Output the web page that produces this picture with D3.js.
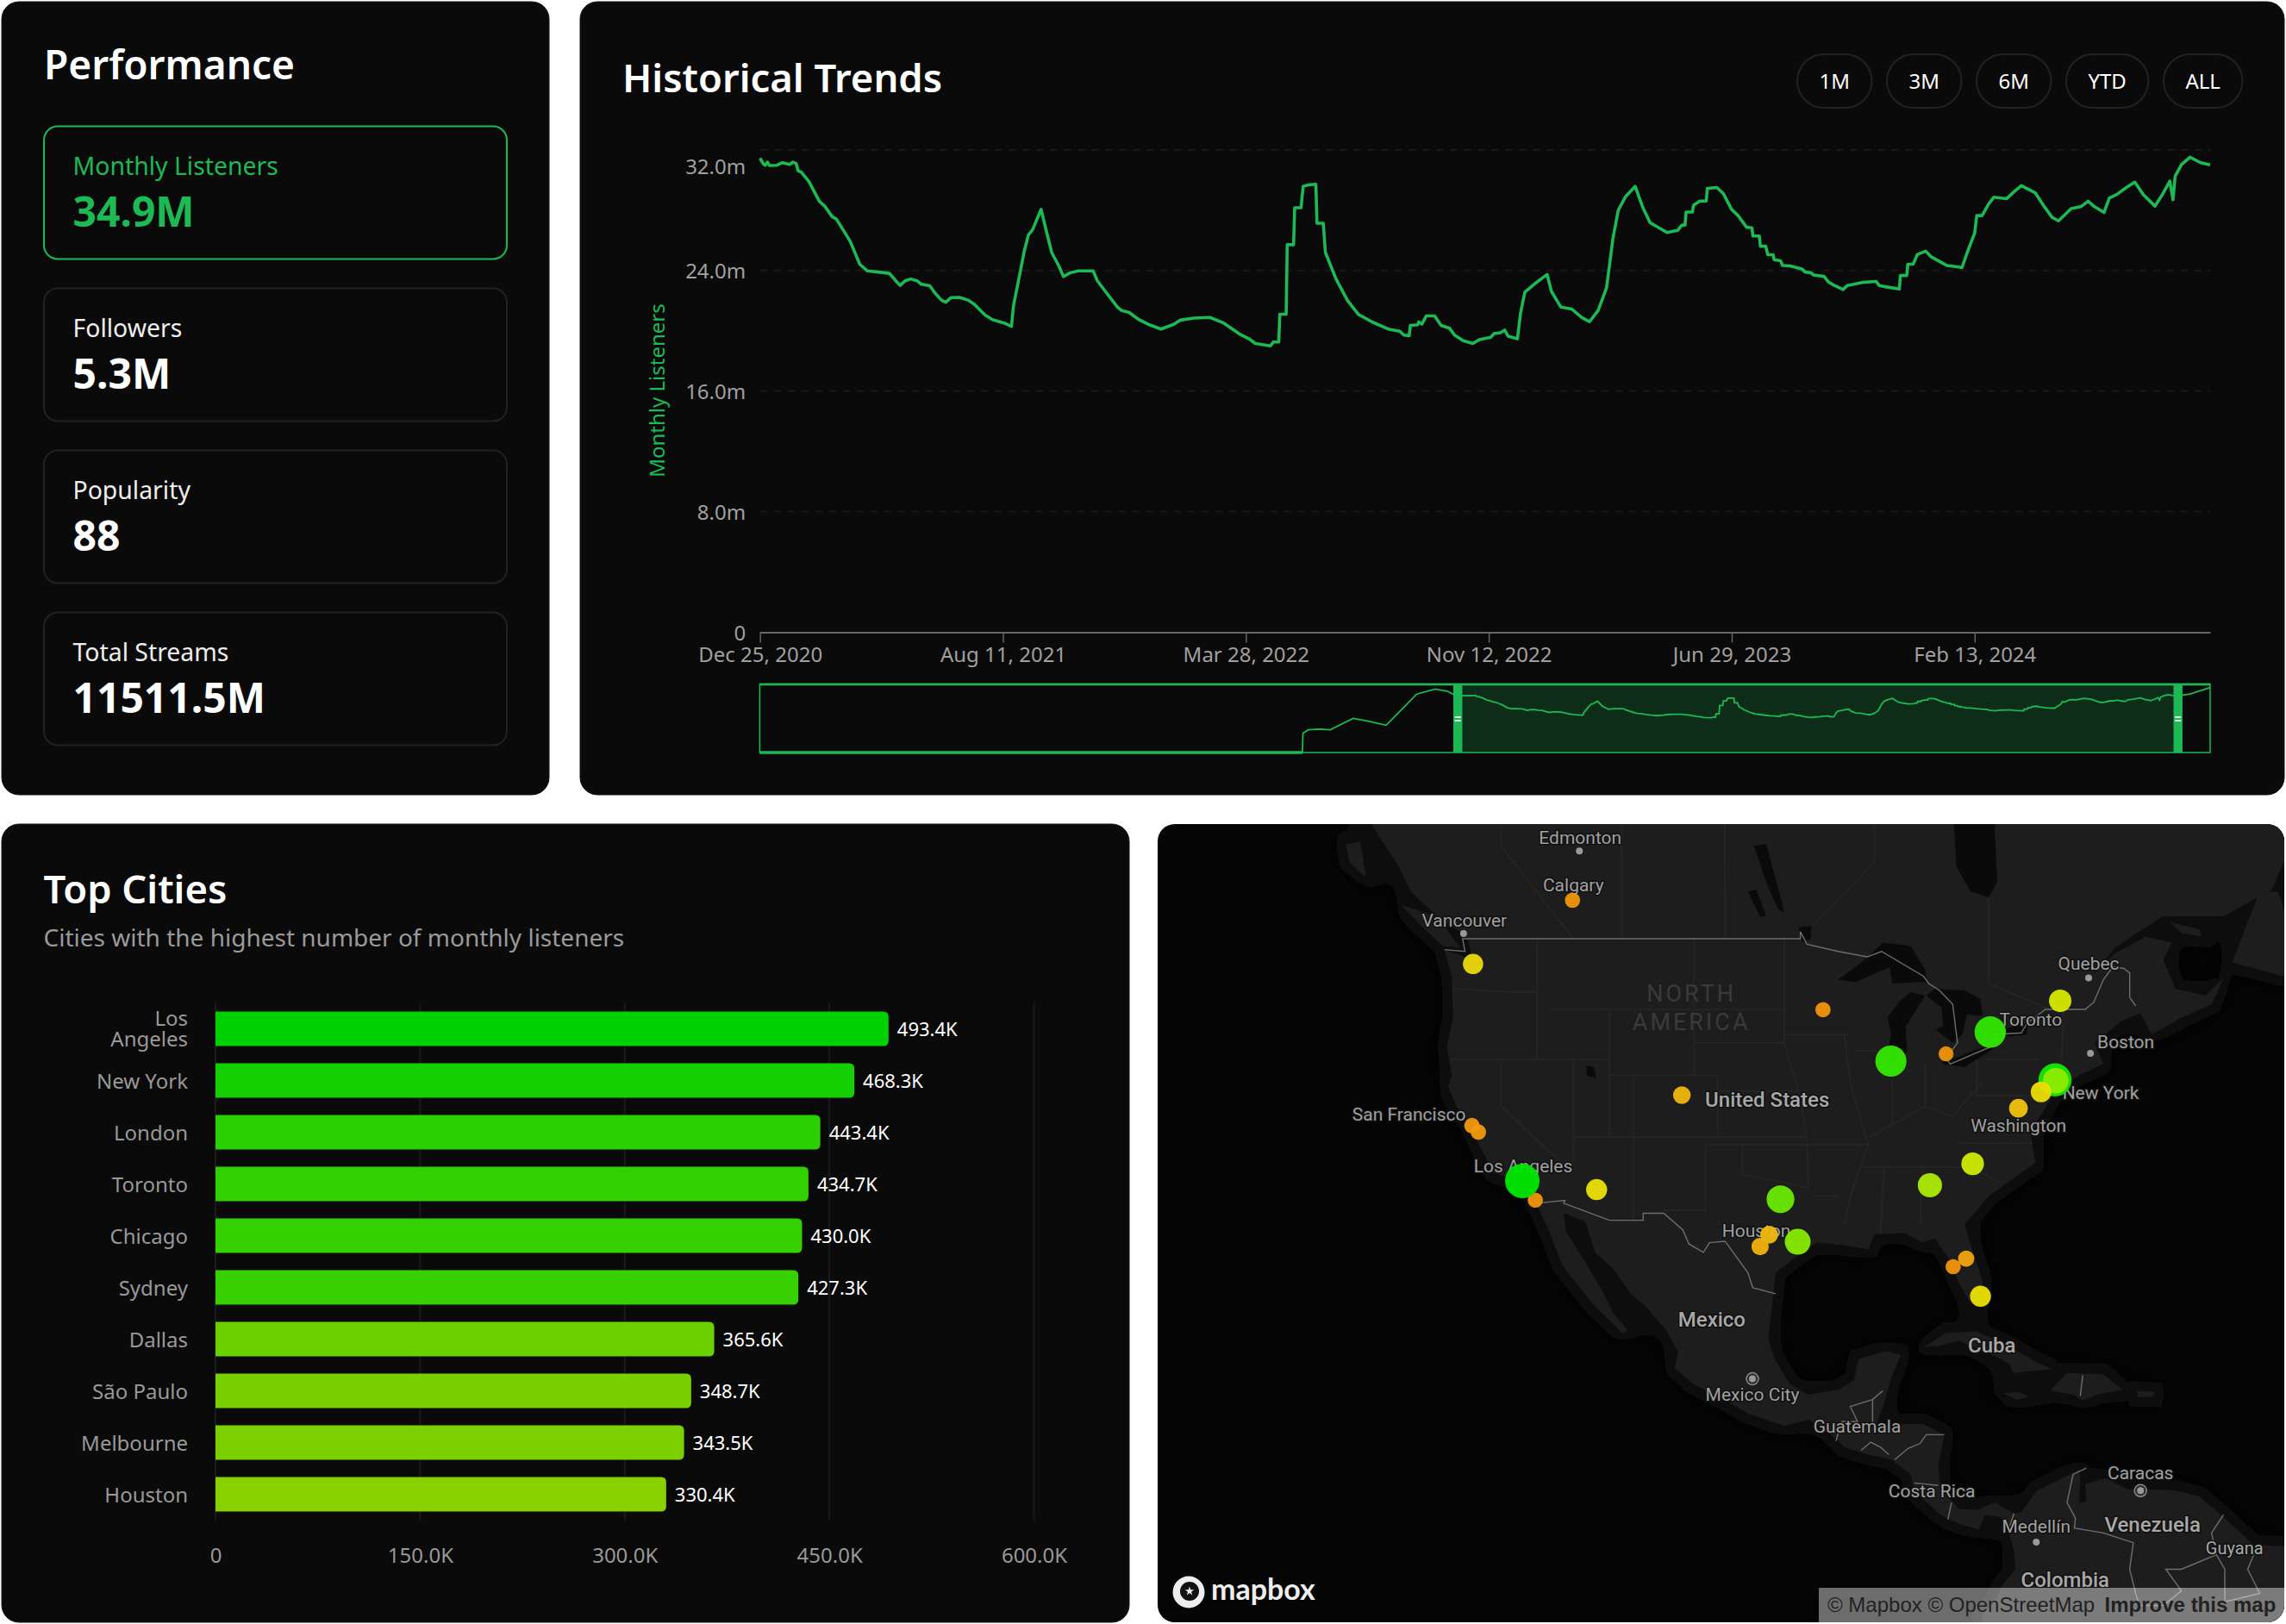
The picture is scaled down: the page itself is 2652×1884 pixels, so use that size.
<!DOCTYPE html>
<html>
<head>
<meta charset="utf-8">
<script src="https://cdn.jsdelivr.net/npm/d3@7"></script>
<style>
  html, body { margin: 0; padding: 0; background: #fff; }
  svg { display: block; font-family: "Noto Sans", sans-serif; }
</style>
</head>
<body>
<svg id="root" width="2652" height="1884"></svg>
<script>
// Stat cards
const statLabels = ["Monthly Listeners", "Followers", "Popularity", "Total Streams"];
const statValues = ["34.9M", "5.3M", "88", "11511.5M"];

// Range buttons
const rangeLabels = ["1M", "3M", "6M", "YTD", "ALL"];

// Historical trend, days since the first date and listeners in millions
const trendStart = "2020-12-25";
const trendDays = [0,3,5,7,9,16,21,28,31,34,36,39,46,56,61,68,72,85,94,101,110,122,128,132,137,142,148,152,160,165,171,175,180,188,196,202,212,219,230,237,239,243,249,253,257,265,270,275,282,286,292,300,314,318,328,337,341,348,357,367,378,390,396,409,424,437,453,461,467,481,484,489,490,496,497,503,504,510,512,517,524,525,531,533,543,554,564,577,593,603,607,612,613,620,621,624,628,636,642,650,655,663,672,678,689,692,698,702,705,714,717,721,731,742,746,755,765,775,782,790,798,804,809,816,825,832,839,855,865,869,872,873,879,880,886,892,893,902,908,916,922,930,935,936,942,943,948,950,955,956,962,964,971,982,985,991,993,1003,1007,1012,1021,1025,1031,1039,1052,1055,1062,1074,1075,1081,1082,1087,1091,1099,1104,1119,1130,1133,1138,1145,1147,1152,1158,1163,1175,1182,1189,1202,1210,1218,1224,1236,1245,1252,1258,1267,1272,1279,1288,1296,1304,1315,1322,1329,1332,1334,1340,1348,1358,1367];
const trendValues = [31.44,31.07,30.97,31.18,30.95,30.97,31.14,31.02,31.18,31.09,30.6,30.51,29.9,28.57,28.26,27.56,27.4,25.93,24.41,23.97,23.9,23.8,23.31,23.0,23.31,23.43,23.31,23.08,22.98,22.49,22.03,21.89,22.19,22.21,22.03,21.75,21.05,20.74,20.51,20.28,21.68,23.08,25.25,26.35,26.7,28.05,26.58,25.18,24.25,23.59,23.83,23.97,23.97,23.31,22.38,21.56,21.33,21.21,20.74,20.39,20.11,20.42,20.7,20.84,20.88,20.51,19.74,19.46,19.15,18.99,19.25,19.25,21.09,21.09,25.7,25.7,28.15,28.15,29.57,29.67,29.71,27.12,27.12,25.18,23.43,21.98,21.09,20.58,20.09,19.97,19.71,19.67,20.35,20.39,20.58,20.44,20.98,20.98,20.35,20.16,19.69,19.34,19.15,19.41,19.57,19.81,19.86,20.04,19.64,19.46,21.2,22.56,23.15,23.73,22.61,21.56,21.44,20.86,20.6,21.33,22.84,26.1,27.98,28.9,29.57,28.2,27.17,26.51,26.65,27.0,27.0,27.87,27.87,28.33,28.6,28.6,29.43,29.5,29.1,28.03,27.63,26.86,26.82,26.28,26.28,25.6,25.6,25.04,25.04,24.71,24.64,24.32,24.29,24.1,23.9,23.83,23.69,23.6,23.24,23.03,22.73,23.0,23.08,23.2,23.27,23.0,22.9,22.77,23.66,23.66,24.41,24.41,25.06,25.27,24.9,24.32,24.22,24.18,25.18,26.47,27.63,27.63,28.38,28.85,28.75,29.2,29.62,29.15,28.29,27.52,27.28,28.1,28.22,28.59,28.22,27.84,28.8,29.03,29.5,29.85,29.03,28.26,29.03,29.92,28.68,30.25,31.02,31.51,31.14,31.0];
const trendTicks = ["2020-12-25", "2021-08-11", "2022-03-28", "2022-11-12", "2023-06-29", "2024-02-13"];
const trendYTicks = [0, 8, 16, 24, 32];

// Overview strip holds history before and after the zoomed window
const leadDays = [-1325,-295,-294,-284,-261,-242,-199,-174,-136,-107,-78,-43,-20,-6];
const leadValues = [0,0,10.5,12.4,12.8,12.4,18.6,17.4,14.9,23.3,31.9,34.6,33.5,31.4];
const tailDays = [1390, 1428];
const tailValues = [31.9, 35.5];

// Top cities
const cityNames = ["Los Angeles", "New York", "London", "Toronto", "Chicago", "Sydney", "Dallas", "São Paulo", "Melbourne", "Houston"];
const cityListeners = [493.4, 468.3, 443.4, 434.7, 430.0, 427.3, 365.6, 348.7, 343.5, 330.4];
const cityTicks = [0, 150, 300, 450, 600];

// Map markers, listeners in thousands
const markerNames = ["Calgary","Seattle","San Francisco","San Jose","San Diego","Phoenix","Denver","Minneapolis","Detroit","Montreal","Charlotte","Atlanta","Washington","Austin","San Antonio","Orlando","Tampa","Miami","Dallas","Houston","Chicago","Toronto","Los Angeles","New York","Brooklyn","Philadelphia"];
const markerLon = [-114.07,-122.33,-122.42,-121.89,-117.16,-112.07,-104.99,-93.27,-83.05,-73.57,-80.84,-84.39,-77.04,-97.74,-98.49,-81.38,-82.46,-80.19,-96.8,-95.37,-87.63,-79.38,-118.24,-74.0,-73.94,-75.16];
const markerLat = [51.05,47.6,37.77,37.34,32.72,33.45,39.74,44.98,42.33,45.5,35.22,33.75,38.9,30.27,29.42,28.54,27.95,25.76,32.78,29.76,41.88,43.65,34.05,40.71,40.65,39.95];
const markerListeners = [130,225,135,135,130,240,175,130,125,265,270,300,195,180,170,150,130,240,365.6,330.4,430.0,434.7,493.4,468.3,325,232];

// Map place labels
const placeNames = ["Edmonton","Calgary","Vancouver","San Francisco","Los Angeles","Houston","Quebec","Toronto","Boston","New York","Washington","Mexico City","Guatemala","Costa Rica","Caracas","Medellín"];
const placeLon = [-113.5,-114.07,-123.12,-122.42,-118.24,-95.37,-71.21,-79.38,-71.06,-74.0,-77.04,-99.13,-90.5,-84.09,-66.9,-75.56];
const placeLat = [53.55,51.05,49.28,37.77,34.05,29.76,46.81,43.65,42.36,40.71,38.9,19.43,14.63,9.93,10.48,6.25];
const placeDots = ["Edmonton","Vancouver","Quebec","Boston","Mexico City","Caracas","Medellín"];
const placeCapitals = ["Mexico City","Caracas"];
const regionNames = ["United States","Mexico","Cuba","Venezuela","Guyana","Colombia"];
const regionLon = [-97.9,-102.5,-79.25,-65.9,-59.1,-73.16];
const regionLat = [39.0,23.46,21.48,7.12,5.25,2.55];

// Map outlines as [lon, lat]
const mainland = [[-136,60],[-136,58],[-134.5,56.5],[-131.5,55.5],[-130.3,54.4],[-128.5,52.8],[-127.5,51.5],[-125,50],[-123.2,49.3],[-122.8,49],[-122.4,48],[-122.6,47.3],[-123,48],[-124.7,48.4],[-124.1,46.9],[-124,44.5],[-124.5,42.8],[-124.1,41],[-124.4,40.3],[-123.7,39],[-122.5,37.8],[-121.9,36.6],[-120.6,34.6],[-118.5,34],[-117.3,33],[-117.1,32.5],[-116,30.5],[-114.9,28],[-114,27],[-112.2,25],[-110.5,23.5],[-109.9,22.9],[-109.5,23.2],[-110.7,24.5],[-111.5,26],[-112.8,28],[-114.6,30.5],[-114.8,31.8],[-113,31.2],[-112.2,29],[-110.7,27.8],[-109.3,26],[-108,25],[-106.3,23.2],[-105.3,21.5],[-105.6,20.3],[-104,19],[-101.5,17.8],[-99.5,16.7],[-96.5,15.7],[-94.5,16.2],[-93,15.4],[-91.5,14],[-89.5,13.4],[-87.6,13],[-86,11.8],[-85.7,10.5],[-85,9.8],[-83.5,8.5],[-82.8,8.1],[-81.5,7.6],[-80.3,7.3],[-79.8,8.5],[-78.5,8.3],[-77.9,7.2],[-77.4,5.5],[-77.3,4],[-78.5,2.5],[-79,1.3],[-80,0.3],[-80.1,-1],[-80,-3],[-50,-3],[-50,1],[-52,4.5],[-55,5.9],[-57.5,6],[-60,8.3],[-62,10],[-64,10.5],[-66.5,10.6],[-68,10.6],[-69.8,11.5],[-71.5,11],[-71.4,9.6],[-72,9.5],[-71.9,11.5],[-72,12.2],[-74,11.2],[-75.5,10.5],[-76.8,8.7],[-77.4,8.6],[-79,9.5],[-80.5,8.9],[-82,9],[-83.5,10.7],[-83.7,12.5],[-83.2,15],[-85,15.9],[-87.5,15.8],[-88.8,15.8],[-88.2,17.5],[-87.6,19.5],[-86.8,21.3],[-88,21.6],[-90.3,21],[-90.7,19.3],[-92,18.6],[-94.5,18.2],[-96,19],[-97.3,21],[-97.8,22.5],[-97.5,25],[-97.2,27.5],[-95,29],[-93.8,29.7],[-91.5,29.5],[-89.5,29.2],[-89,30.3],[-86.5,30.4],[-85,29.7],[-84,30],[-82.8,28.5],[-82,26.8],[-81,25.2],[-80.3,25.4],[-80,26.8],[-81,29.5],[-81.5,31],[-79.5,33],[-77.5,34.2],[-75.6,35.3],[-76,37],[-75.5,38],[-74,40],[-72,41],[-70,41.7],[-70.7,43],[-68.5,44.3],[-66.9,44.8],[-66,43.5],[-63.5,44.5],[-61,45.3],[-60,46.8],[-61.5,45.8],[-64,46.2],[-65,47.8],[-64.3,48.8],[-66.5,49.1],[-69,48.2],[-71,46.9],[-69,48.5],[-67,49.4],[-65,50.2],[-60,50.2],[-56,51.6],[-55,53],[-50,53],[-50,60]];
const islands = [
  [[-132.9,53.9],[-131.7,54],[-131.2,52.2],[-132.6,53]],
  [[-128.3,50.8],[-125.3,50.2],[-123.4,48.5],[-124.8,48.6],[-126.5,49.6]],
  [[-84.9,21.9],[-83,23],[-80.5,23.1],[-77.5,21.8],[-75.5,20.7],[-74.2,20.2],[-77.5,19.9],[-77.7,20.5],[-78.5,21],[-80.5,21.8],[-82,22.4],[-83.5,22]],
  [[-74.4,18.5],[-73,19.9],[-70,19.8],[-68.4,18.6],[-70.5,18.2],[-71.7,17.7],[-72.5,18.2]],
  [[-78.3,18.3],[-77,18.4],[-76.2,18],[-77.2,17.8]],
  [[-67.2,18.5],[-65.7,18.4],[-65.8,18],[-67.1,18]],
  [[-59.3,47.7],[-57,51.5],[-55.5,51.5],[-53,47],[-55,46.9]],
  [[-64.5,49.9],[-62,49.5],[-61.8,49.1],[-63.5,49.3]]
];
const lakes = [
  [[-82.5,56],[-82.2,52.8],[-81,51.5],[-79.5,51.2],[-78.8,52],[-79,54.5],[-79,56]],
  [[-92,46.7],[-90.5,46.6],[-88.5,47.2],[-87.7,47.4],[-87.5,46.5],[-85,46.6],[-84.6,46.5],[-84.8,47.3],[-86,48.6],[-88.3,48.8],[-89.5,48]],
  [[-87.8,41.7],[-87,41.7],[-86.3,42.5],[-86.4,44],[-85.5,45],[-84.8,45.8],[-86,46],[-87,45.4],[-87.9,44.5],[-87.6,43.5],[-87.9,42.5]],
  [[-84.7,45.8],[-83.4,45.1],[-83.3,44],[-83.9,43.8],[-82.5,43],[-81.7,43.5],[-81.3,44.7],[-80,44.6],[-80.2,45.6],[-81.5,46.1],[-84,46.2]],
  [[-83.4,41.7],[-81.5,41.5],[-79,42.7],[-79,42.9],[-80.5,42.6],[-82.5,42],[-83.2,42]],
  [[-79.7,43.3],[-78,43.4],[-76.3,43.5],[-76.3,44.2],[-77.5,43.95],[-79.3,43.7]],
  [[-99,53.8],[-98,53.9],[-96.7,51],[-96.5,50.4],[-97,50.6],[-98,52]],
  [[-99.5,51.5],[-98.8,51.6],[-98,50.2],[-98.5,50.2]],
  [[-95.3,49.6],[-94.2,49.7],[-94.3,49],[-95,48.8]],
  [[-112.9,41.6],[-112.3,41.5],[-112.1,40.8],[-112.9,41]]
];
const countryBorders = [
  [[-124.7,48.4],[-123,48.3],[-123.2,49],[-95.15,49],[-95.15,49.38],[-94.6,48.7],[-92,48.3],[-89.6,48],[-88.4,48.3],[-84.9,46.9],[-84.5,46.5],[-83.6,46.1],[-82.5,45.3],[-82.1,43],[-82.5,42.6],[-83.1,42.1],[-82.7,41.7],[-78.9,42.9],[-79,43.3],[-79.2,43.5],[-76.8,43.6],[-76.3,44.2],[-74.8,45],[-71.5,45],[-70.8,45.4],[-70.3,46.2],[-70,46.7],[-69.2,47.45],[-68.3,47.35],[-67.8,47.1],[-67.8,45.7],[-67.3,45.2]],
  [[-117.1,32.5],[-114.7,32.7],[-114.8,32.5],[-111,31.3],[-108.2,31.3],[-108.2,31.8],[-106.5,31.8],[-104.9,30.6],[-104.4,29.6],[-103.2,29],[-102.7,29.7],[-101.4,29.8],[-99.5,27.5],[-99.1,26.4],[-97.2,25.95]],
  [[-92.2,14.5],[-92,15.1],[-91.7,16.05],[-90.4,16.05],[-91,17.25],[-89.15,17.8],[-88.3,18.5]],
  [[-89.15,17.8],[-89.15,15.9]],
  [[-90.1,13.75],[-89.3,14.4],[-88.5,14],[-87.8,13.4]],
  [[-87.3,13],[-86.2,13.9],[-85.2,14.3],[-84.7,15],[-83.2,15]],
  [[-85.7,11.1],[-83.7,10.9]],
  [[-82.9,8.1],[-82.6,9.5]],
  [[-77.4,8.6],[-77.9,7.2]],
  [[-71.4,12.3],[-72.5,11.8],[-73,9.5],[-72.3,8.2],[-72.4,7.4],[-70,7],[-67.5,6.2],[-67.8,4],[-67.3,2],[-67,1]],
  [[-60,8.5],[-61,7],[-60.6,5.2],[-63.5,4],[-64.8,4],[-63.5,2.2],[-65,1],[-67,1]],
  [[-57.2,5.9],[-58,4],[-57,2],[-59.9,1.3]],
  [[-60.6,5.2],[-59.9,4],[-59.9,1.3]],
  [[-71.7,19.7],[-71.9,18.1]]
];
const stateLines = [
  [[-120,60],[-120,53.8],[-114,49]], [[-110,60],[-110,49]], [[-101.5,60],[-101.4,49]], [[-95.15,49],[-89,53],[-89,56.8]], [[-79.5,52],[-79.5,46.5],[-74.5,45]],
  [[-124,46.2],[-119,46],[-117,46]], [[-117,49],[-117,42]], [[-124.2,42],[-111,42]], [[-111,45],[-111,37]], [[-109,41],[-109,31.3]], [[-111,41],[-102,41]],
  [[-102,41],[-102,37]], [[-114,37],[-94.6,37]], [[-114,42],[-114,35]], [[-120,42],[-120,39],[-114.6,35]], [[-104,49],[-104,41]], [[-116,45],[-111,45],[-96.5,45]],
  [[-104,43],[-96.5,43]], [[-102,40],[-95.3,40]], [[-94.6,37],[-94.5,33.6]], [[-100,36.5],[-100,34.5],[-94.5,33.6]], [[-103,36.5],[-89.5,36.5]], [[-90,35],[-84,35]],
  [[-85,35],[-85.2,31]], [[-88.2,35],[-88.5,30.3]], [[-87.5,41.7],[-87.5,37.9]], [[-84.8,41.7],[-84.8,39]], [[-80.5,42],[-80.5,39.7],[-75.8,39.7]], [[-79.7,42],[-75.3,42]],
  [[-73.5,41],[-73.3,45]], [[-96.5,49],[-96.5,43],[-95.3,40],[-94.6,37]], [[-91.5,43.5],[-91,40.5],[-89.5,36.5],[-91,33],[-91.5,31]], [[-91,43.5],[-96.5,43.5]], [[-87.8,42.5],[-90.6,42.5]],
  [[-84.8,39],[-82.5,38.4],[-80,40.6]], [[-89.5,37],[-84.8,39]], [[-82,36.6],[-75.9,36.6]], [[-84.3,35],[-81,35],[-78.5,33.9]], [[-103,36.5],[-103,32],[-106.5,32]], [[-92,33],[-94,33]]
];

const svg = d3.select("#root");
const cardFill = "#0a0a0a";
const green = "#1db954";

function card(x, y, w, h) {
  svg.append("rect").attr("x", x).attr("y", y).attr("width", w).attr("height", h)
    .attr("rx", 20).attr("fill", cardFill).attr("stroke", "#151515").attr("stroke-width", 1);
}

function title(x, y, text, size) {
  return svg.append("text").attr("x", x).attr("y", y).attr("fill", "#fff")
    .attr("font-size", size).attr("font-weight", 600).text(text);
}

// ---------- Performance ----------
card(2, 2, 635, 920);
title(51, 92, "Performance", 46);

statLabels.forEach((label, i) => {
  const y = 146.5 + i * 188;
  const active = i === 0;
  svg.append("rect").attr("x", 51).attr("y", y).attr("width", 537).attr("height", 154).attr("rx", 16)
    .attr("fill", "none").attr("stroke", active ? green : "#222").attr("stroke-width", 2);
  svg.append("text").attr("x", 84.5).attr("y", y + 56.5).attr("font-size", 28.4)
    .attr("fill", active ? green : "#eee").text(label);
  svg.append("text").attr("x", 84.5).attr("y", y + 116).attr("font-size", 48).attr("font-weight", 700)
    .attr("fill", active ? green : "#fff").text(statValues[i]);
});

// ---------- Historical Trends ----------
card(673, 2, 1977, 920);
title(722, 106.5, "Historical Trends", 45.4);

let pillRight = 2601.4;
rangeLabels.slice().reverse().forEach((label) => {
  const t = svg.append("text").attr("y", 103).attr("font-size", 24).attr("fill", "#fff")
    .attr("text-anchor", "middle").text(label);
  const w = t.node().getComputedTextLength() + 51;
  t.attr("x", pillRight - w / 2);
  svg.append("rect").attr("x", pillRight - w).attr("y", 63).attr("width", w).attr("height", 62)
    .attr("rx", 31).attr("fill", "none").attr("stroke", "#222").attr("stroke-width", 2);
  pillRight -= w + 17.5;
});

const parseDay = d3.utcParse("%Y-%m-%d");
const startDate = parseDay(trendStart);
const dayToDate = (d) => d3.utcDay.offset(startDate, d);
const trend = trendDays.map((d, i) => ({ date: dayToDate(d), value: trendValues[i] }));

const trendX = d3.scaleUtc().domain([startDate, dayToDate(1367)]).range([881.7, 2564]);
const trendY = d3.scaleLinear().domain([0, 32]).range([733.5, 173.7]);

// Dashed grid
svg.append("g").selectAll("line").data(trendYTicks.filter((d) => d > 0)).join("line")
  .attr("x1", trendX.range()[0]).attr("x2", trendX.range()[1])
  .attr("y1", (d) => trendY(d)).attr("y2", (d) => trendY(d))
  .attr("stroke", "#1d1d1d").attr("stroke-width", 1.5).attr("stroke-dasharray", "8 8");

const yAxisG = svg.append("g").attr("transform", `translate(${trendX.range()[0]},0)`)
  .call(d3.axisLeft(trendY).tickValues(trendYTicks).tickSize(0).tickPadding(16.5)
    .tickFormat((d) => (d === 0 ? "0" : d.toFixed(1) + "m")));
yAxisG.select(".domain").remove();
yAxisG.selectAll("text").attr("font-size", 24).attr("font-family", "Noto Sans").attr("fill", "#a0a0a0")
  .attr("dy", "0.38em");
// top label is pushed inside the plot in the reference
yAxisG.selectAll(".tick").filter((d) => d === 32).select("text").attr("dy", "1.14em");

const xAxisG = svg.append("g").attr("transform", `translate(0,${trendY(0)})`)
  .call(d3.axisBottom(trendX).tickValues(trendTicks.map(parseDay)).tickSize(12).tickSizeOuter(0).tickPadding(5)
    .tickFormat(d3.utcFormat("%b %d, %Y")));
xAxisG.select(".domain").attr("stroke", "#666").attr("stroke-width", 2);
xAxisG.selectAll("line").attr("stroke", "#666").attr("stroke-width", 1.5);
xAxisG.selectAll("text").attr("font-size", 24).attr("font-family", "Noto Sans").attr("fill", "#a0a0a0");

svg.append("text").attr("transform", "translate(771,453) rotate(-90)").attr("text-anchor", "middle")
  .attr("font-size", 24).attr("fill", green).text("Monthly Listeners");

svg.append("path").datum(trend).attr("fill", "none").attr("stroke", green).attr("stroke-width", 3.6)
  .attr("stroke-linejoin", "round")
  .attr("d", d3.line().x((d) => trendX(d.date)).y((d) => trendY(d.value)));

// Overview strip
const overview = leadDays.map((d, i) => ({ date: dayToDate(d), value: leadValues[i] }))
  .concat(trend)
  .concat(tailDays.map((d, i) => ({ date: dayToDate(d), value: tailValues[i] })));
const ovX = d3.scaleUtc().domain([dayToDate(leadDays[0]), dayToDate(tailDays[tailDays.length - 1])]).range([881.4, 2564]);
const ovY = d3.scaleLinear().domain([0, 37.4]).range([873, 793.5]);
const ovLine = d3.line().x((d) => ovX(d.date)).y((d) => ovY(d.value));
const winL = ovX(startDate);
const winR = ovX(dayToDate(1367));

svg.append("rect").attr("x", winL).attr("y", ovY.range()[1]).attr("width", winR - winL)
  .attr("height", ovY.range()[0] - ovY.range()[1]).attr("fill", green).attr("fill-opacity", 0.2);
svg.append("path").datum(overview).attr("fill", "none").attr("stroke", green).attr("stroke-width", 1.8)
  .attr("d", ovLine);
// the flat empty stretch reads heavier because it sits on the frame
svg.append("path").datum(overview.filter((d) => d.value === 0)).attr("fill", "none").attr("stroke", green)
  .attr("stroke-width", 3.5).attr("d", ovLine);
svg.append("rect").attr("x", ovX.range()[0]).attr("y", ovY.range()[1]).attr("width", ovX.range()[1] - ovX.range()[0])
  .attr("height", ovY.range()[0] - ovY.range()[1]).attr("fill", "none").attr("stroke", green).attr("stroke-width", 1.5);
svg.append("line").attr("x1", ovX.range()[0]).attr("x2", ovX.range()[1]).attr("y1", 794).attr("y2", 794)
  .attr("stroke", green).attr("stroke-width", 2.5);
[winL, winR].forEach((x) => {
  svg.append("rect").attr("x", x - 5.2).attr("y", 794).attr("width", 10.4).attr("height", 79).attr("fill", green);
  [831, 835].forEach((y) => {
    svg.append("rect").attr("x", x - 3.5).attr("y", y).attr("width", 7).attr("height", 2).attr("fill", "#e8f5ec");
  });
});

// ---------- Top Cities ----------
card(2, 956, 1308, 926);
title(50.5, 1048, "Top Cities", 45.4);
svg.append("text").attr("x", 50.5).attr("y", 1098).attr("font-size", 28).attr("fill", "#9a9a9a")
  .text("Cities with the highest number of monthly listeners");

const barX = d3.scaleLinear().domain([0, 600]).range([250, 1199.5]);
const barY = d3.scaleBand().domain(cityNames).range([1163.5, 1763.5]).paddingInner(1 / 3).paddingOuter(1 / 6);
const barColor = d3.scaleLinear().domain([330.4, 493.4]).range(["#88d000", "#00d000"]);
const fmtK = (v) => (v === 0 ? "0" : v.toFixed(1) + "K");

svg.append("g").selectAll("line").data(cityTicks).join("line")
  .attr("x1", (d) => barX(d)).attr("x2", (d) => barX(d))
  .attr("y1", barY.range()[0]).attr("y2", barY.range()[1])
  .attr("stroke", "#1a1a1a").attr("stroke-width", 2);

const barPath = (d) => {
  const x0 = barX(0), x1 = barX(d.value), y0 = barY(d.name), h = barY.bandwidth(), r = 6;
  return `M${x0},${y0}H${x1 - r}Q${x1},${y0} ${x1},${y0 + r}V${y0 + h - r}Q${x1},${y0 + h} ${x1 - r},${y0 + h}H${x0}Z`;
};
const cityRows = cityNames.map((name, i) => ({ name, value: cityListeners[i] }));
svg.append("g").selectAll("path").data(cityRows).join("path")
  .attr("d", barPath).attr("fill", (d) => barColor(d.value));
svg.append("g").selectAll("text").data(cityRows).join("text")
  .attr("x", (d) => barX(d.value) + 10).attr("y", (d) => barY(d.name) + barY.bandwidth() / 2)
  .attr("dy", "0.38em").attr("font-size", 22).attr("fill", "#fff").text((d) => fmtK(d.value));

const barYAxis = svg.append("g").attr("transform", `translate(${barX(0)},0)`)
  .call(d3.axisLeft(barY).tickSize(0).tickPadding(32));
barYAxis.select(".domain").remove();
barYAxis.selectAll("text").attr("font-size", 24).attr("font-family", "Noto Sans").attr("fill", "#999")
  .attr("dy", "0.38em");
// long names wrap on two lines
barYAxis.selectAll("text").filter((d) => d.length > 10).each(function (d) {
  const t = d3.select(this);
  t.text(null);
  t.attr("dy", null);
  d.split(" ").forEach((word, i) => {
    t.append("tspan").attr("x", -32).attr("dy", i === 0 ? "-0.15em" : "1em").text(word);
  });
});

const barXAxis = svg.append("g").attr("transform", `translate(0,${barY.range()[1]})`)
  .call(d3.axisBottom(barX).tickValues(cityTicks).tickSize(0).tickPadding(32).tickFormat(fmtK));
barXAxis.select(".domain").remove();
barXAxis.selectAll("text").attr("font-size", 24).attr("font-family", "Noto Sans").attr("fill", "#999");

// ---------- Map ----------
const defs = svg.append("defs");
defs.append("clipPath").attr("id", "map-clip").append("rect")
  .attr("x", 1343).attr("y", 956).attr("width", 1307).attr("height", 926).attr("rx", 20);
defs.append("filter").attr("id", "shallow").attr("filterUnits", "userSpaceOnUse")
  .attr("x", 1343).attr("y", 956).attr("width", 1307).attr("height", 926)
  .append("feGaussianBlur").attr("stdDeviation", 16);

const projection = d3.geoMercator().scale(800.4).translate([3417.8, 1876.4]).precision(0);
const ring = (coords) => d3.line()(coords.map((c) => projection(c))) + "Z";
const lineOf = (coords) => d3.line()(coords.map((c) => projection(c)));

const map = svg.append("g").attr("clip-path", "url(#map-clip)");
map.append("rect").attr("x", 1343).attr("y", 956).attr("width", 1307).attr("height", 926).attr("fill", "#050505");
const landRings = [mainland].concat(islands);
map.append("g").attr("filter", "url(#shallow)").selectAll("path").data(landRings).join("path")
  .attr("d", ring).attr("fill", "#0e0e0e").attr("stroke", "#0e0e0e").attr("stroke-width", 24);
map.append("g").selectAll("path").data(landRings).join("path").attr("d", ring).attr("fill", "#1d1d1d");
map.append("g").selectAll("path").data(stateLines).join("path").attr("d", lineOf)
  .attr("fill", "none").attr("stroke", "#262626").attr("stroke-width", 1.5);
map.append("g").selectAll("path").data(lakes).join("path").attr("d", ring).attr("fill", "#0a0a0a");
map.append("g").selectAll("path").data(countryBorders).join("path").attr("d", lineOf)
  .attr("fill", "none").attr("stroke", "#6e6e6e").attr("stroke-width", 1.4);

// Label offsets from the place they name, in pixels
const placeOffsets = {
  "Edmonton": [1, -8], "Calgary": [1, -10], "Vancouver": [1, -8], "San Francisco": [-73, -6], "Los Angeles": [1, -10],
  "Houston": [-48, -6], "Quebec": [0, -10], "Toronto": [47, -7], "Boston": [41, -6], "New York": [53, 22],
  "Washington": [0, 27], "Mexico City": [0, 25], "Guatemala": [1, -8], "Costa Rica": [-2, 0], "Caracas": [0, -13], "Medellín": [0, -11]
};
const labelFont = "Roboto, sans-serif";

const places = placeNames.map((name, i) => ({ name, p: projection([placeLon[i], placeLat[i]]) }));
map.append("g").selectAll("circle").data(places.filter((d) => placeCapitals.includes(d.name))).join("circle")
  .attr("cx", (d) => d.p[0]).attr("cy", (d) => d.p[1]).attr("r", 7).attr("fill", "#2a2a2a")
  .attr("stroke", "#8a8a8a").attr("stroke-width", 1.5);
map.append("g").selectAll("circle").data(places.filter((d) => placeDots.includes(d.name))).join("circle")
  .attr("cx", (d) => d.p[0]).attr("cy", (d) => d.p[1]).attr("r", 4).attr("fill", "#999");
map.append("g").selectAll("text").data(places).join("text")
  .attr("x", (d) => d.p[0] + placeOffsets[d.name][0]).attr("y", (d) => d.p[1] + placeOffsets[d.name][1])
  .attr("text-anchor", "middle").attr("font-family", labelFont).attr("font-size", 21).attr("fill", "#a0a0a0")
  .attr("stroke", "#111").attr("stroke-width", 3).attr("paint-order", "stroke").text((d) => d.name);
map.append("g").selectAll("text").data(regionNames).join("text")
  .attr("x", (d, i) => projection([regionLon[i], regionLat[i]])[0])
  .attr("y", (d, i) => projection([regionLon[i], regionLat[i]])[1])
  .attr("text-anchor", "middle").attr("font-family", labelFont)
  .attr("font-size", (d) => (d === "Guyana" ? 20 : 24)).attr("font-weight", (d) => (d === "Guyana" ? 400 : 500)).attr("fill", "#a8a8a8")
  .attr("stroke", "#111").attr("stroke-width", 3).attr("paint-order", "stroke").text((d) => d);
const northAmerica = projection([-104.2, 45.46]);
["NORTH", "AMERICA"].forEach((word, i) => {
  map.append("text").attr("x", northAmerica[0]).attr("y", northAmerica[1] + i * 33.5).attr("text-anchor", "middle")
    .attr("font-family", labelFont).attr("font-size", 27).attr("letter-spacing", 3).attr("fill", "#3a3a3a").text(word);
});

// Markers size and colour follow the listener count
const markerR = d3.scaleLinear().domain([135, 493.4]).range([9, 20]);
const markerColor = d3.scaleLinear().domain([120, 190, 250, 330, 493.4])
  .range(["#f08f0c", "#f2c010", "#e8ea00", "#88ec00", "#00e800"]);
const markers = markerNames.map((name, i) => ({ name, lon: markerLon[i], lat: markerLat[i], value: markerListeners[i] }));
map.append("g").selectAll("circle").data(markers).join("circle")
  .attr("cx", (d) => projection([d.lon, d.lat])[0]).attr("cy", (d) => projection([d.lon, d.lat])[1])
  .attr("r", (d) => markerR(d.value)).attr("fill", (d) => markerColor(d.value)).attr("fill-opacity", 0.95);

// Mapbox logo and attribution
const logo = map.append("g").attr("transform", "translate(1379,1847)");
logo.append("circle").attr("r", 18.5).attr("fill", "#eee");
logo.append("circle").attr("r", 11).attr("cx", 1).attr("cy", -1).attr("fill", "#111");
logo.append("path").attr("d", d3.symbol(d3.symbolStar, 34)()).attr("transform", "translate(1,-1)").attr("fill", "#eee");
map.append("text").attr("x", 1405).attr("y", 1856).attr("font-family", "Lato, sans-serif").attr("font-size", 34)
  .attr("font-weight", 700).attr("fill", "#eee").text("mapbox");
map.append("rect").attr("x", 2110).attr("y", 1842).attr("width", 540).attr("height", 40).attr("fill", "#fff").attr("fill-opacity", 0.42);
map.append("text").attr("x", 2120).attr("y", 1870).attr("font-family", "Liberation Sans, sans-serif").attr("font-size", 24)
  .attr("fill", "#222").text("© Mapbox © OpenStreetMap");
map.append("text").attr("x", 2441.6).attr("y", 1870).attr("font-family", "Liberation Sans, sans-serif").attr("font-size", 24)
  .attr("font-weight", 700).attr("fill", "#222").text("Improve this map");
</script>
</body>
</html>
